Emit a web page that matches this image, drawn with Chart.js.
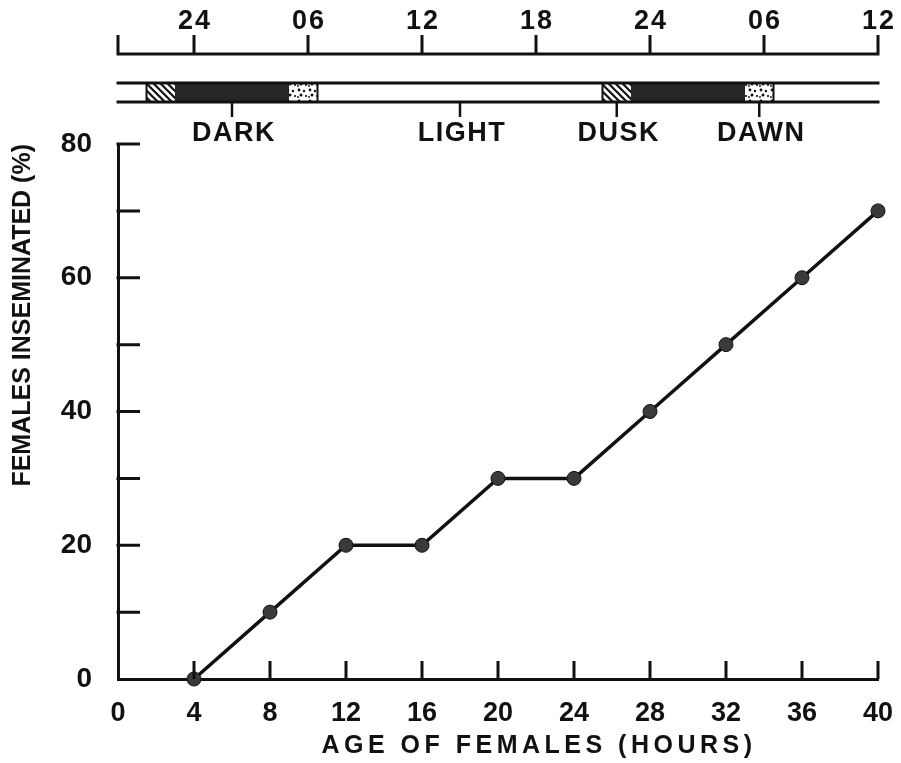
<!DOCTYPE html>
<html>
<head>
<meta charset="utf-8">
<script src="https://cdn.jsdelivr.net/npm/chart.js@4.4.1/dist/chart.umd.min.js"></script>
<style>
html,body{margin:0;padding:0;background:#fff;}
#wrap{width:901px;height:763px;}
</style>
</head>
<body>
<div id="wrap"><canvas id="c" width="901" height="763"></canvas></div>
<script>
// ---- data ----
const ages = [4, 8, 12, 16, 20, 24, 28, 32, 36, 40];
const inseminated = [0, 10, 20, 20, 30, 30, 40, 50, 60, 70];

// clock-time axis along the top (age in hours -> time of day)
const clockTickAges = [0, 4, 10, 16, 22, 28, 34, 40];
const clockTickLabels = ['', '24', '06', '12', '18', '24', '06', '12'];

// light/dark regime (age in hours)
const duskPeriods = [[1.5, 3], [25.5, 27]];
const darkPeriods = [[3, 9], [27, 33]];
const dawnPeriods = [[9, 10.5], [33, 34.5]];
const phaseLabels = ['DARK', 'LIGHT', 'DUSK', 'DAWN'];
const phaseAges = [6, 18, 26.25, 33.75];

const xTitle = 'AGE OF FEMALES (HOURS)';
const yTitle = 'FEMALES INSEMINATED (%)';

// ---- style ----
const INK = '#111';
const FONT = "'Liberation Sans', Arial, sans-serif";

function hatchPattern(ctx) {
  const c = document.createElement('canvas'); c.width = 7; c.height = 7;
  const g = c.getContext('2d');
  g.fillStyle = '#fff'; g.fillRect(0, 0, 7, 7);
  g.strokeStyle = INK; g.lineWidth = 2.2;
  g.beginPath();
  g.moveTo(-1, -1); g.lineTo(8, 8);
  g.moveTo(6, -1); g.lineTo(8, 1);
  g.moveTo(-1, 6); g.lineTo(1, 8);
  g.stroke();
  return ctx.createPattern(c, 'repeat');
}
function dotPattern(ctx) {
  const c = document.createElement('canvas'); c.width = 11; c.height = 11;
  const g = c.getContext('2d');
  g.fillStyle = '#fff'; g.fillRect(0, 0, 11, 11);
  g.fillStyle = INK;
  [[2, 2, 1.4], [7, 3, 1.2], [4, 7, 1.5], [9, 8, 1.1], [1, 9, 0.9]].forEach(([x, y, r]) => {
    g.beginPath(); g.arc(x, y, r, 0, Math.PI * 2); g.fill();
  });
  return ctx.createPattern(c, 'repeat');
}

const decor = {
  id: 'decor',
  afterDraw(chart) {
    const ctx = chart.ctx, xs = chart.scales.x, ys = chart.scales.y;
    const L = xs.left, R = xs.right;
    ctx.save();
    ctx.strokeStyle = INK; ctx.fillStyle = INK; ctx.lineCap = 'butt';

    // inward tick marks on the main axes
    ctx.lineWidth = 3;
    ctx.beginPath();
    xs.ticks.forEach(t => {
      if (t.value === 0) return;
      const px = xs.getPixelForValue(t.value);
      ctx.moveTo(px, ys.bottom); ctx.lineTo(px, ys.bottom - 18);
    });
    ys.ticks.forEach(t => {
      if (t.value === 0) return;
      const py = ys.getPixelForValue(t.value);
      ctx.moveTo(L - 1.5, py); ctx.lineTo(L + 22, py);
    });
    ctx.stroke();

    // top clock axis
    const axY = 54;
    ctx.lineWidth = 3;
    ctx.beginPath();
    ctx.moveTo(L - 1.5, axY); ctx.lineTo(R + 1.5, axY);
    clockTickAges.forEach(a => {
      const px = xs.getPixelForValue(a);
      ctx.moveTo(px, axY); ctx.lineTo(px, axY - 19);
    });
    ctx.stroke();
    ctx.font = 'bold 27px ' + FONT;
    ctx.textAlign = 'center'; ctx.textBaseline = 'middle';
    ctx.letterSpacing = '2px';
    clockTickAges.forEach((a, i) => {
      if (!clockTickLabels[i]) return;
      ctx.fillText(clockTickLabels[i], xs.getPixelForValue(a) + 1, 22);
    });

    // light/dark bar
    const bTop = 83, bBot = 102;
    const seg = (periods, fill) => {
      periods.forEach(([a, b]) => {
        const x0 = xs.getPixelForValue(a), x1 = xs.getPixelForValue(b);
        ctx.fillStyle = fill;
        ctx.fillRect(x0, bTop, x1 - x0, bBot - bTop);
      });
    };
    seg(duskPeriods, hatchPattern(ctx));
    seg(darkPeriods, '#262626');
    seg(dawnPeriods, dotPattern(ctx));
    ctx.fillStyle = INK;
    ctx.lineWidth = 2;
    [0, 1].forEach(i => {
      const x0 = xs.getPixelForValue(duskPeriods[i][0]);
      const x1 = xs.getPixelForValue(dawnPeriods[i][1]);
      ctx.strokeRect(x0, bTop, x1 - x0, bBot - bTop);
    });
    ctx.lineWidth = 3;
    ctx.beginPath();
    ctx.moveTo(L - 1.5, bTop); ctx.lineTo(R + 1.5, bTop);
    ctx.moveTo(L - 1.5, bBot); ctx.lineTo(R + 1.5, bBot);
    ctx.stroke();

    // phase markers and labels
    ctx.lineWidth = 2.5;
    ctx.beginPath();
    phaseAges.forEach(a => {
      const px = xs.getPixelForValue(a);
      ctx.moveTo(px, bBot); ctx.lineTo(px, bBot + 15);
    });
    ctx.stroke();
    ctx.letterSpacing = '1.5px';
    phaseLabels.forEach((lab, i) => {
      ctx.fillText(lab, xs.getPixelForValue(phaseAges[i]) + 2, 134);
    });

    // x axis title
    ctx.font = 'bold 25px ' + FONT;
    ctx.letterSpacing = '4.5px';
    ctx.fillText(xTitle, (L + R) / 2 + 41, 746);
    ctx.restore();
  }
};

const chart = new Chart(document.getElementById('c'), {
  type: 'line',
  data: {
    datasets: [{
      data: ages.map((a, i) => ({ x: a, y: inseminated[i] })),
      borderColor: INK,
      borderWidth: 3.5,
      pointRadius: 7,
      pointBackgroundColor: '#3a3a3a',
      pointBorderColor: INK,
      pointBorderWidth: 1,
      tension: 0,
      clip: false
    }]
  },
  options: {
    responsive: false,
    devicePixelRatio: 1,
    animation: false,
    layout: { padding: { top: 144, right: 23, left: 0, bottom: 0 } },
    plugins: { legend: { display: false }, tooltip: { enabled: false }, title: { display: false } },
    scales: {
      x: {
        type: 'linear', min: 0, max: 40,
        grid: { display: false, drawTicks: false },
        border: { display: true, color: INK, width: 3 },
        ticks: {
          stepSize: 4, color: INK, padding: 18,
          font: { family: FONT, size: 27, weight: 'bold' }
        },
        afterFit(s) { s.height = 84; s.paddingLeft = 0; s.paddingRight = 0; }
      },
      y: {
        min: 0, max: 80,
        grid: { display: false, drawTicks: false },
        border: { display: true, color: INK, width: 3 },
        ticks: {
          stepSize: 10, color: INK, padding: 26,
          font: { family: FONT, size: 28, weight: 'bold' },
          callback: v => (v % 20 === 0 ? String(v) : '')
        },
        title: {
          display: true, text: yTitle, align: 'end', color: INK,
          font: { family: FONT, size: 25, weight: 'bold' },
          padding: { top: 8, bottom: 0 }
        },
        afterFit(s) { s.width = 118; s.paddingTop = 0; s.paddingBottom = 0; }
      }
    }
  },
  plugins: [decor]
});
</script>
</body>
</html>
